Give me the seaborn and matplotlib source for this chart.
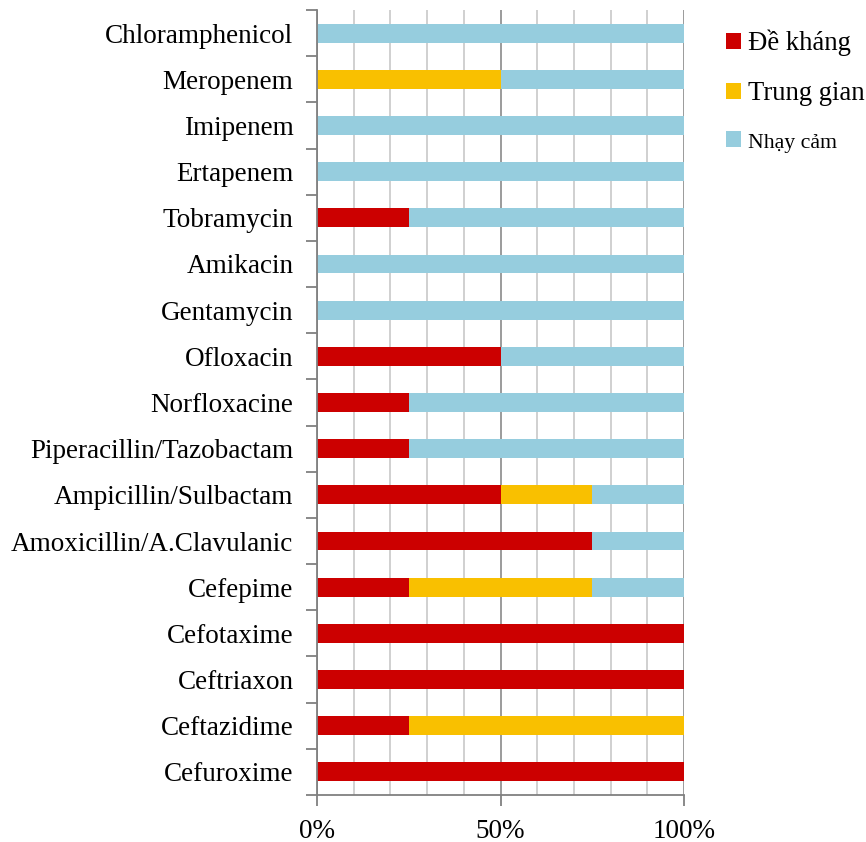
import matplotlib
matplotlib.use("Agg")
import matplotlib.pyplot as plt
import seaborn as sns
import pandas as pd
import numpy as np
from matplotlib.patches import Patch
from matplotlib.ticker import MultipleLocator, FixedLocator, PercentFormatter

antibiotics = [
    "Chloramphenicol", "Meropenem", "Imipenem", "Ertapenem", "Tobramycin",
    "Amikacin", "Gentamycin", "Ofloxacin", "Norfloxacine",
    "Piperacillin/Tazobactam", "Ampicillin/Sulbactam",
    "Amoxicillin/A.Clavulanic", "Cefepime", "Cefotaxime", "Ceftriaxon",
    "Ceftazidime", "Cefuroxime",
]
resistant = [0, 0, 0, 0, 25, 0, 0, 50, 25, 25, 50, 75, 25, 100, 100, 25, 100]
intermediate = [0, 50, 0, 0, 0, 0, 0, 0, 0, 0, 25, 0, 50, 0, 0, 75, 0]
sensitive = [100, 50, 100, 100, 75, 100, 100, 50, 75, 75, 25, 25, 25, 0, 0, 0, 0]

series_labels = ["Đề kháng", "Trung gian", "Nhạy cảm"]
colors = ["#CC0000", "#F9C000", "#96CDDE"]

sns.set_theme(style="white")
plt.rcParams["font.family"] = ["Liberation Serif", "DejaVu Serif"]
plt.rcParams["text.color"] = "black"
plt.rcParams["xtick.labelcolor"] = "black"
plt.rcParams["ytick.labelcolor"] = "black"

df = pd.DataFrame({
    "antibiotic": antibiotics,
    "r": resistant,
    "i": intermediate,
    "s": sensitive,
})
df["cum_r"] = df["r"]
df["cum_ri"] = df["r"] + df["i"]
df["cum_ris"] = df["r"] + df["i"] + df["s"]

fig = plt.figure(figsize=(8.66, 8.42), dpi=100)
ax = fig.add_axes([317 / 866, 1 - 795 / 842, (684 - 317) / 866, (795 - 10) / 842])

# Stacked bars drawn as cumulative layers, longest first
for col, color in zip(["cum_ris", "cum_ri", "cum_r"], colors[::-1]):
    sns.barplot(data=df, x=col, y="antibiotic", orient="h", color=color,
                width=0.41, saturation=1, ax=ax, linewidth=0, order=antibiotics)

n = len(antibiotics)
ax.set_xlim(0, 100)
ax.set_ylim(n - 0.5, -0.5)
ax.set_xlabel("")
ax.set_ylabel("")

# Gridlines: light every 10%, darker at 50% steps
ax.xaxis.set_major_locator(FixedLocator([0, 50, 100]))
ax.xaxis.set_minor_locator(MultipleLocator(10))
ax.xaxis.set_major_formatter(PercentFormatter(decimals=0))
ax.grid(axis="x", which="minor", color="#C8C8C8", linewidth=1.2, zorder=0)
ax.grid(axis="x", which="major", color="#8A8A8A", linewidth=1.2, zorder=0)
ax.set_axisbelow(True)

ax.yaxis.set_minor_locator(FixedLocator(np.arange(-0.5, n, 1.0)))
ax.tick_params(axis="y", which="major", length=0, pad=17, labelsize=19.5,
               labelcolor="black")
ax.tick_params(axis="y", which="minor", length=8, width=1.3, color="#808080", left=True)
ax.tick_params(axis="x", which="major", length=8, width=1.3, color="#808080",
               bottom=True, labelsize=19.5, pad=9, labelcolor="black")
ax.tick_params(axis="x", which="minor", length=0)

for side in ["top", "right"]:
    ax.spines[side].set_visible(False)
for side in ["left", "bottom"]:
    ax.spines[side].set_color("#808080")
    ax.spines[side].set_linewidth(1.3)

handles = [Patch(facecolor=c, edgecolor="none") for c in colors]
leg = fig.legend(handles, series_labels, loc="upper left",
                 bbox_to_anchor=(726 / 866, 1 - 30 / 842), frameon=False,
                 handlelength=0.55, handleheight=0.55, handletextpad=0.28,
                 labelspacing=0.92, fontsize=19.2, borderaxespad=0,
                 borderpad=0)
leg.get_texts()[2].set_fontsize(15.7)

fig.savefig("out.png", dpi=100)
